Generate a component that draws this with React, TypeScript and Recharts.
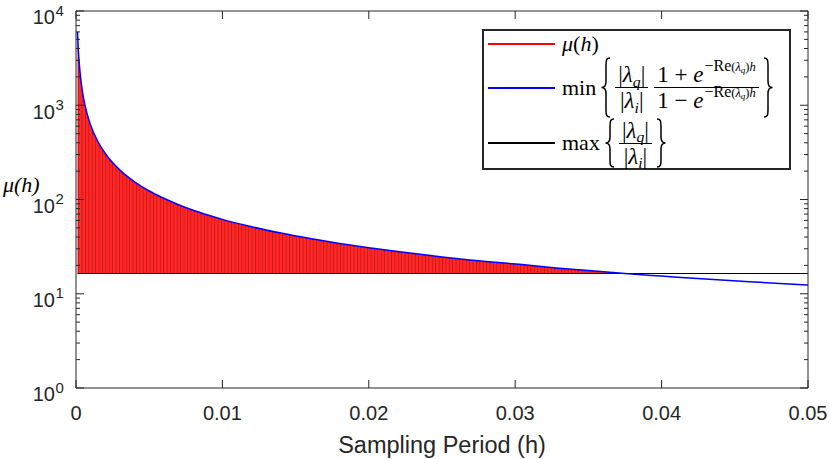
import React from 'react';
import { ComposedChart, Line, Area, XAxis, YAxis } from 'recharts';

if (typeof document !== 'undefined') {
  document.body.style.margin = '0';
}

// ---- data ----
const hValues = [
  0.0001, 0.00015, 0.0002, 0.0003, 0.0004, 0.0005, 0.00075, 0.001, 0.0015, 0.002,
  0.003, 0.004, 0.005, 0.006, 0.007, 0.008, 0.009, 0.01, 0.012, 0.014,
  0.016, 0.018, 0.02, 0.0221, 0.025, 0.028, 0.0303, 0.033, 0.035, 0.0375,
  0.04, 0.043, 0.046, 0.05,
];
// min{ |λq|/|λi| (1+e^{-Re h})/(1-e^{-Re h}) } (blue)
const minBound = [
  6000, 4080, 3070, 2050, 1540, 1230, 820, 615, 410, 308,
  205, 154, 123, 103, 88, 77, 68.5, 61.5, 51.3, 44,
  38.5, 34.2, 30.8, 27.9, 24.6, 22, 20.5, 18.7, 17.6, 16.4,
  15.4, 14.3, 13.4, 12.4,
];
// μ(h) (red, filled down to the max line), defined up to the crossing
const muValues = [
  6000, 4080, 3070, 2050, 1540, 1230, 820, 615, 410, 308,
  205, 154, 123, 103, 88, 77, 68.5, 61.5, 51.3, 44,
  38.5, 34.2, 30.8, 27.9, 24.6, 22, 20.5, 18.7, 17.6, 16.4,
];
// max{ |λq|/|λi| } (black)
const maxRatio = 16.4;

const xTicks = [0, 0.01, 0.02, 0.03, 0.04, 0.05];
const xTickLabels = ['0', '0.01', '0.02', '0.03', '0.04', '0.05'];
const yMajorTicks = [1, 10, 100, 1000, 10000];
const yExponents = ['0', '1', '2', '3', '4'];
const yMinorMultipliers = [2, 3, 4, 5, 6, 7, 8, 9];

const yTicks: number[] = [];
yMajorTicks.forEach((m, k) => {
  yTicks.push(m);
  if (k < yMajorTicks.length - 1) yMinorMultipliers.forEach((f) => yTicks.push(m * f));
});

const data = hValues.map((h, i) => ({
  h,
  minb: minBound[i],
  maxv: maxRatio,
  mu: i < muValues.length ? [maxRatio, muValues[i]] : undefined,
}));

// ---- styles ----
const AXIS = '#262626';
const SANS = '"Liberation Sans", Arial, Helvetica, sans-serif';
const SERIF = '"Liberation Serif", "DejaVu Serif", serif';

const W = 830;
const H = 459;
const PLOT_LEFT = 76;
const PLOT_RIGHT = 808;
const PLOT_TOP = 11;
const PLOT_BOTTOM = 388;

const BottomTick = (props: any) => {
  const { x, y, payload } = props;
  const idx = xTicks.indexOf(payload.value);
  return (
    <g>
      <line x1={x} y1={y} x2={x} y2={y - 8} stroke={AXIS} strokeWidth={1} />
      <text x={x} y={y + 32} textAnchor="middle" fontSize={20} fill={AXIS} fontFamily={SANS}>
        {idx >= 0 ? xTickLabels[idx] : ''}
      </text>
    </g>
  );
};

const TopTick = (props: any) => {
  const { x, y } = props;
  return <line x1={x} y1={y} x2={x} y2={y + 8} stroke={AXIS} strokeWidth={1} />;
};

const LeftTick = (props: any) => {
  const { x, y, payload } = props;
  const mi = yMajorTicks.indexOf(payload.value);
  const major = mi >= 0;
  return (
    <g>
      <line x1={x} y1={y} x2={x + (major ? 8 : 4)} y2={y} stroke={AXIS} strokeWidth={1} />
      {major && (
        <g>
          <text x={x - 21} y={y + 13.4} textAnchor="end" fontSize={20} fill={AXIS} fontFamily={SANS}>
            10
          </text>
          <text x={x - 20.5} y={y + 4.5} textAnchor="start" fontSize={15} fill={AXIS} fontFamily={SANS}>
            {yExponents[mi]}
          </text>
        </g>
      )}
    </g>
  );
};

const RightTick = (props: any) => {
  const { x, y, payload } = props;
  const major = yMajorTicks.indexOf(payload.value) >= 0;
  return <line x1={x} y1={y} x2={x - (major ? 8 : 4)} y2={y} stroke={AXIS} strokeWidth={1} />;
};

// ---- legend math helpers ----
const Sub = ({ children }: any) => (
  <span style={{ fontSize: '0.68em', position: 'relative', top: '0.3em', lineHeight: 0 }}>{children}</span>
);
const AbsLam = ({ sub }: { sub: string }) => (
  <span>
    |<i>λ</i>
    <Sub>
      <i>{sub}</i>
    </Sub>
    |
  </span>
);
const ExpTerm = () => (
  <span>
    <i>e</i>
    <span style={{ position: 'relative', top: '-0.5em', lineHeight: 0, marginLeft: 1 }}>
      <span style={{ fontSize: 16 }}>−Re</span>
      <span style={{ fontSize: 12.5 }}>
        (<i>λ</i>
        <span style={{ fontSize: 9, position: 'relative', top: '0.3em' }}>
          <i>q</i>
        </span>
        )<i>h</i>
      </span>
    </span>
  </span>
);

const Frac = ({ num, den }: any) => (
  <span
    style={{
      display: 'inline-flex',
      flexDirection: 'column',
      alignItems: 'stretch',
      fontSize: 23,
      margin: '0 3px',
    }}
  >
    <span style={{ textAlign: 'center', lineHeight: '25px', padding: '0 3px', whiteSpace: 'nowrap' }}>{num}</span>
    <span style={{ height: 0, borderTop: '1px solid #000' }} />
    <span style={{ textAlign: 'center', lineHeight: '25px', padding: '0 3px', whiteSpace: 'nowrap' }}>{den}</span>
  </span>
);

const Brace = ({ h, right }: { h: number; right?: boolean }) => {
  const m = h / 2;
  const d = `M10,1 C6.5,1 6,3 6,8 L6,${m - 6} C6,${m - 2} 4.5,${m} 1.5,${m} C4.5,${m} 6,${m + 2} 6,${m + 6} L6,${h - 8} C6,${h - 3} 6.5,${h - 1} 10,${h - 1}`;
  return (
    <svg
      width={12}
      height={h}
      viewBox={`0 0 12 ${h}`}
      style={{ display: 'block', flex: '0 0 auto', transform: right ? 'scaleX(-1)' : undefined }}
    >
      <path d={d} fill="none" stroke="#000" strokeWidth={1.5} />
    </svg>
  );
};

const LegendBox = () => {
  const rowStyle = (centerY: number, height: number): React.CSSProperties => ({
    position: 'absolute',
    left: 0,
    top: centerY - height / 2,
    height,
    display: 'flex',
    alignItems: 'center',
    fontFamily: SERIF,
    color: '#000',
    whiteSpace: 'nowrap',
  });
  const sample = (color: string) => (
    <span
      style={{
        display: 'block',
        flex: '0 0 auto',
        width: 67,
        height: 2,
        backgroundColor: color,
        marginLeft: 4,
        marginRight: 7,
      }}
    />
  );
  return (
    <div
      style={{
        position: 'absolute',
        left: 482,
        top: 29,
        width: 309,
        height: 141,
        boxSizing: 'border-box',
        border: `2px solid ${AXIS}`,
        background: '#fff',
      }}
    >
      <div style={rowStyle(13, 26)}>
        {sample('#ff0000')}
        <span style={{ fontSize: 22 }}>
          <i>μ</i>(<i>h</i>)
        </span>
      </div>
      <div style={rowStyle(56.5, 64)}>
        {sample('#0000ff')}
        <span style={{ fontSize: 22, marginRight: 4 }}>min</span>
        <Brace h={61} />
        <Frac num={<AbsLam sub="q" />} den={<AbsLam sub="i" />} />
        <Frac
          num={
            <span>
              1 + <ExpTerm />
            </span>
          }
          den={
            <span>
              1 − <ExpTerm />
            </span>
          }
        />
        <Brace h={61} right />
      </div>
      <div style={rowStyle(112, 52)}>
        {sample('#000000')}
        <span style={{ fontSize: 22, marginRight: 4 }}>max</span>
        <Brace h={50} />
        <Frac num={<AbsLam sub="q" />} den={<AbsLam sub="i" />} />
        <Brace h={50} right />
      </div>
    </div>
  );
};

export default function App() {
  return (
    <div style={{ position: 'relative', width: W, height: H, background: '#fff' }}>
      <ComposedChart
        width={W}
        height={H}
        data={data}
        margin={{ top: 0, right: 0, bottom: 0, left: 0 }}
      >
        <defs>
          <pattern id="redStripes" width="3.4" height="6" patternUnits="userSpaceOnUse">
            <rect x="0" y="0" width="3.4" height="6" fill="#ff2828" />
            <rect x="0" y="0" width="0.9" height="6" fill="#cc1515" />
          </pattern>
        </defs>
        <XAxis
          xAxisId="bottom"
          dataKey="h"
          type="number"
          domain={[0, 0.05]}
          allowDataOverflow
          ticks={xTicks}
          interval={0}
          height={H - PLOT_BOTTOM}
          tickSize={0}
          tickMargin={0}
          tick={<BottomTick />}
          axisLine={{ stroke: AXIS, strokeWidth: 1 }}
          label={{
            content: () => (
              <text x={442} y={453} textAnchor="middle" fontSize={23.5} fill={AXIS} fontFamily={SANS}>
                Sampling Period (h)
              </text>
            ),
          }}
        />
        <XAxis
          xAxisId="top"
          dataKey="h"
          orientation="top"
          type="number"
          domain={[0, 0.05]}
          allowDataOverflow
          ticks={xTicks}
          interval={0}
          height={PLOT_TOP}
          tickSize={0}
          tickMargin={0}
          tick={<TopTick />}
          axisLine={{ stroke: AXIS, strokeWidth: 1 }}
        />
        <YAxis
          yAxisId="left"
          type="number"
          scale="log"
          domain={[1, 10000]}
          allowDataOverflow
          ticks={yTicks}
          interval={0}
          width={PLOT_LEFT}
          tickSize={0}
          tickMargin={0}
          tick={<LeftTick />}
          axisLine={{ stroke: AXIS, strokeWidth: 1 }}
          label={{
            content: () => (
              <text x={3} y={192} fontSize={22} fontStyle="italic" fill="#000" fontFamily={SERIF}>
                μ(h)
              </text>
            ),
          }}
        />
        <YAxis
          yAxisId="right"
          orientation="right"
          type="number"
          scale="log"
          domain={[1, 10000]}
          allowDataOverflow
          ticks={yTicks}
          interval={0}
          width={W - PLOT_RIGHT}
          tickSize={0}
          tickMargin={0}
          tick={<RightTick />}
          axisLine={{ stroke: AXIS, strokeWidth: 1 }}
        />
        <Area
          xAxisId="bottom"
          yAxisId="left"
          dataKey="mu"
          type="monotone"
          fill="url(#redStripes)"
          fillOpacity={1}
          stroke="none"
          isAnimationActive={false}
          connectNulls={false}
        />
        <Line
          xAxisId="top"
          yAxisId="right"
          dataKey="maxv"
          type="linear"
          stroke="#000"
          strokeWidth={1.2}
          dot={false}
          isAnimationActive={false}
        />
        <Line
          xAxisId="bottom"
          yAxisId="left"
          dataKey="minb"
          type="monotone"
          stroke="#0000ff"
          strokeWidth={1.5}
          dot={false}
          isAnimationActive={false}
        />
      </ComposedChart>
      <LegendBox />
    </div>
  );
}
